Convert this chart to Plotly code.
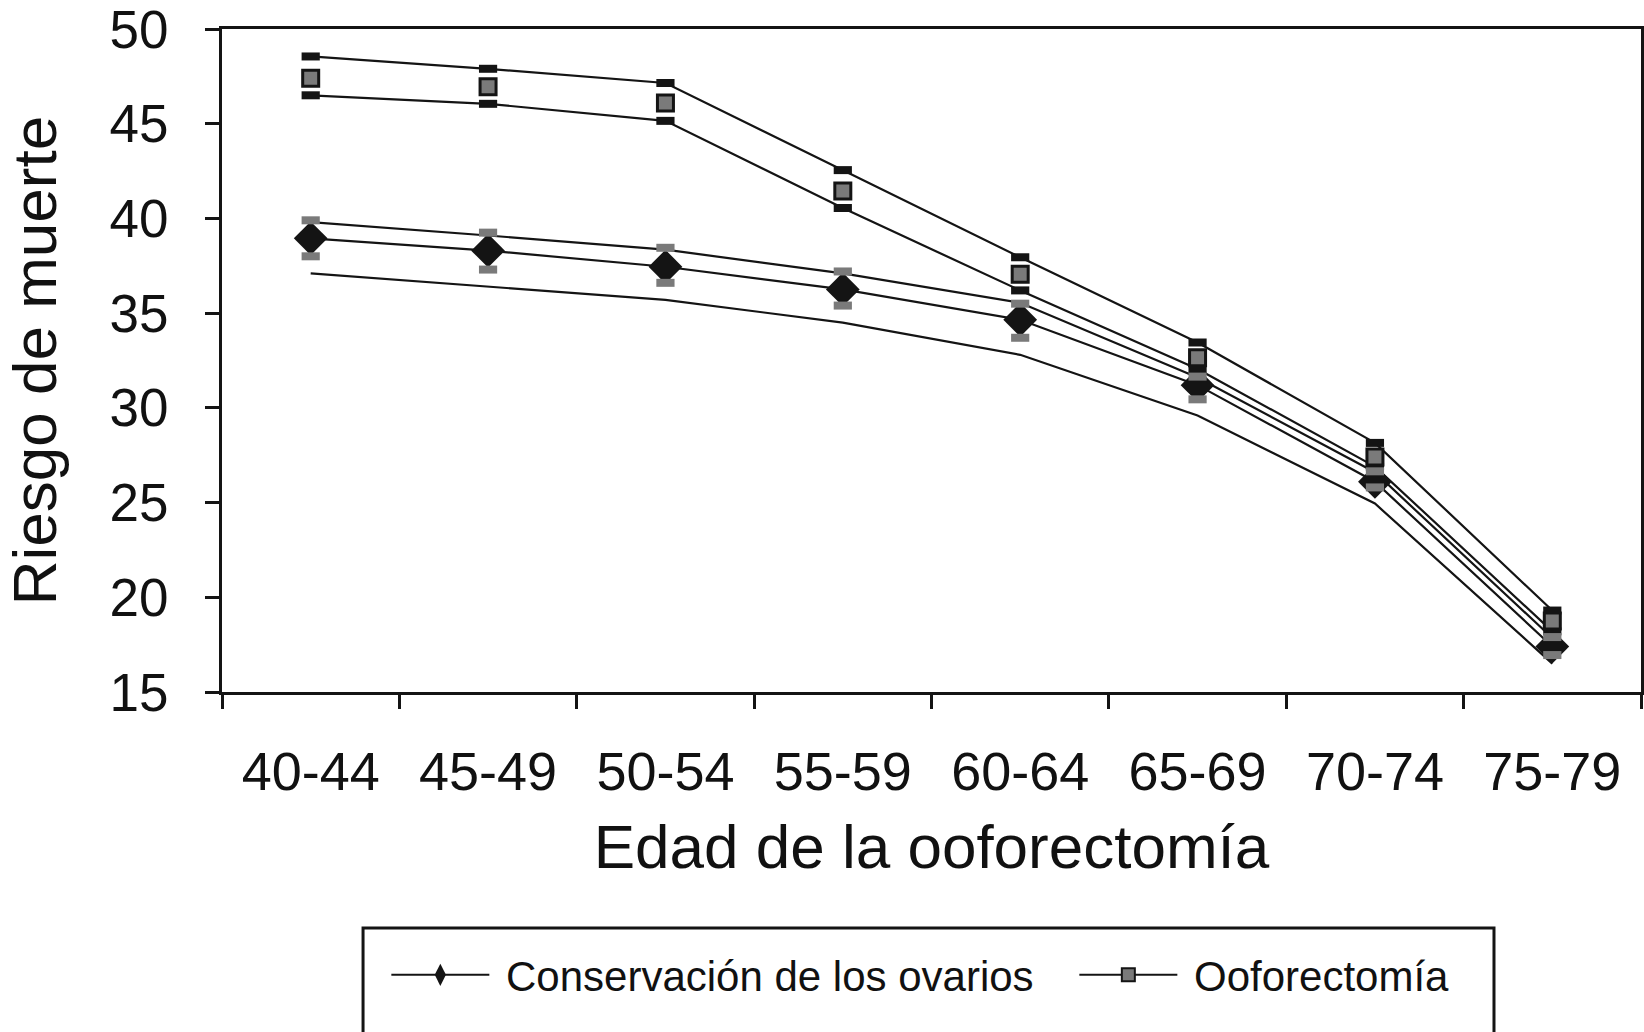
import plotly.graph_objects as go

categories = ["40-44", "45-49", "50-54", "55-59", "60-64", "65-69", "70-74", "75-79"]

oof_mean = [47.4, 46.95, 46.1, 41.45, 37.05, 32.65, 27.4, 18.75]
oof_upper = [48.55, 47.9, 47.15, 42.55, 37.95, 33.45, 28.15, 19.3]
oof_lower = [46.5, 46.05, 45.15, 40.55, 36.2, 32.05, 26.9, 18.2]

cons_mean = [38.95, 38.3, 37.45, 36.25, 34.65, 31.2, 26.1, 17.4]
cons_upper_marks = [39.9, 39.25, 38.45, 37.2, 35.5, 31.65, 26.65, 17.9]
cons_lower_marks = [38.0, 37.3, 36.6, 35.4, 33.7, 30.45, 25.8, 16.95]
cons_upper_line = [39.8, 39.1, 38.35, 37.1, 35.55, 31.6, 26.6, 17.85]
cons_lower_line = [37.1, 36.4, 35.7, 34.5, 32.8, 29.6, 24.95, 16.5]

legend_names = ["Conservación de los ovarios", "Ooforectomía"]

BLACK = "#141414"
GRAY = "#7a7a7a"
TXT = "#111111"
FONT = "Liberation Sans, Arial, sans-serif"

fig = go.Figure()

line_style = dict(color=BLACK, width=2.2)


def bar_marker(color):
    return dict(symbol="line-ew", size=13, line=dict(color=color, width=8))


# CI lines of the oophorectomy group
fig.add_trace(go.Scatter(x=categories, y=oof_upper, mode="lines+markers",
                         line=line_style, marker=bar_marker(BLACK), showlegend=False))
fig.add_trace(go.Scatter(x=categories, y=oof_lower, mode="lines+markers",
                         line=line_style, marker=bar_marker(BLACK), showlegend=False))
# CI lines of the conservation group
fig.add_trace(go.Scatter(x=categories, y=cons_upper_line, mode="lines",
                         line=line_style, showlegend=False))
fig.add_trace(go.Scatter(x=categories, y=cons_lower_line, mode="lines",
                         line=line_style, showlegend=False))
# conservation mean
fig.add_trace(go.Scatter(x=categories, y=cons_mean, mode="lines+markers",
                         line=line_style,
                         marker=dict(symbol="diamond", size=26, color=BLACK,
                                     line=dict(width=0)),
                         showlegend=False))
# conservation CI markers
fig.add_trace(go.Scatter(x=categories, y=cons_upper_marks, mode="markers",
                         marker=bar_marker(GRAY), showlegend=False))
fig.add_trace(go.Scatter(x=categories, y=cons_lower_marks, mode="markers",
                         marker=bar_marker(GRAY), showlegend=False))
# oophorectomy mean
fig.add_trace(go.Scatter(x=categories, y=oof_mean, mode="markers",
                         marker=dict(symbol="square", size=16, color=GRAY,
                                     line=dict(color=BLACK, width=3)),
                         showlegend=False))

# legend entries
fig.add_trace(go.Scatter(x=[None], y=[None], mode="lines+markers",
                         name="\u00a0" + legend_names[0],
                         line=dict(color=BLACK, width=2),
                         marker=dict(symbol="diamond-tall", size=33, color=BLACK)))
fig.add_trace(go.Scatter(x=[None], y=[None], mode="lines+markers",
                         name="\u00a0" + legend_names[1],
                         line=dict(color=BLACK, width=2),
                         marker=dict(symbol="square", size=13, color=GRAY,
                                     line=dict(color=BLACK, width=2))))

fig.update_layout(
    width=1644, height=1032,
    margin=dict(l=222, r=3, t=29, b=340),
    paper_bgcolor="white", plot_bgcolor="white",
    font=dict(family=FONT, color=TXT),
    showlegend=True,
    legend=dict(orientation="h", xref="container", yref="container",
                x=0.235, xanchor="left", y=0.0552, yanchor="middle",
                font=dict(size=42, family=FONT, color=TXT),
                bgcolor="rgba(0,0,0,0)", borderwidth=0,
                itemwidth=98, entrywidth=575, entrywidthmode="pixels",
                itemsizing="trace"),
    shapes=[dict(type="rect", xref="paper", yref="paper",
                 x0=0.0994, x1=0.8964, y0=-0.6, y1=-0.356,
                 line=dict(color=BLACK, width=3))],
)

fig.update_xaxes(
    type="category", range=[-0.5, 7.5], tickson="boundaries", automargin=False,
    ticks="outside", ticklen=14, tickwidth=3, tickcolor=BLACK,
    showline=True, linewidth=3, linecolor=BLACK, mirror=True,
    showgrid=False, zeroline=False,
    tickfont=dict(size=54, family=FONT, color=TXT),
    ticklabelstandoff=30,
    title=dict(text="Edad de la ooforectomía", font=dict(size=62, family=FONT, color=TXT),
               standoff=25),
)
fig.update_yaxes(
    range=[15, 50], dtick=5, tick0=15, automargin=False,
    ticks="outside", ticklen=14, tickwidth=3, tickcolor=BLACK,
    showline=True, linewidth=3, linecolor=BLACK, mirror=True,
    showgrid=False, zeroline=False,
    tickfont=dict(size=53, family=FONT, color=TXT),
    ticklabelstandoff=26, ticklabeloverflow="allow",
    title=dict(text="Riesgo de muerte", font=dict(size=62, family=FONT, color=TXT),
               standoff=52),
)

fig.write_html("out.html", config={"displayModeBar": False},
               post_script="document.body.style.margin='0';")
